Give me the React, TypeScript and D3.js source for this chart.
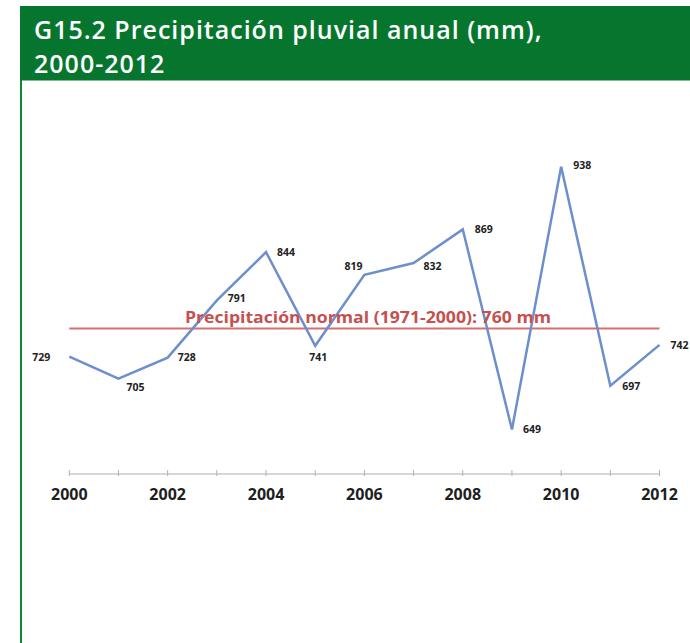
import React from "react";
import * as d3 from "d3";

const years = [2000, 2001, 2002, 2003, 2004, 2005, 2006, 2007, 2008, 2009, 2010, 2011, 2012];
const rainfall = [729, 705, 728, 791, 844, 741, 819, 832, 869, 649, 938, 697, 742];
const normalValue = 760;
const normalLabel = "Precipitación normal (1971-2000): 760 mm";
const tickYears = [2000, 2002, 2004, 2006, 2008, 2010, 2012];
const titleLines = ["G15.2 Precipitación pluvial anual (mm),", "2000-2012"];

// label placement offsets (style only)
const labelOffsets: [number, number, string][] = [
  [-19, 1, "end"],
  [8, 10, "start"],
  [10, 1, "start"],
  [11, -1, "start"],
  [11, 1, "start"],
  [3, 12, "middle"],
  [-2, -8, "end"],
  [10, 4, "start"],
  [12, 1, "start"],
  [11, 1, "start"],
  [12, 0, "start"],
  [12, 1, "start"],
  [11, 1, "start"],
];

export default function App() {
  const W = 690;
  const H = 643;
  const x = d3.scaleLinear().domain([2000, 2012]).range([69.3, 659.5]);
  const y = d3.scaleLinear().domain([600, 1000]).range([474, 110.3]);
  const line = d3
    .line<number>()
    .x((_, i) => x(years[i]))
    .y((d) => y(d));
  const axisY = y(600);

  return (
    <svg
      width={W}
      height={H}
      style={{ position: "absolute", left: 0, top: 0, background: "#fff" }}
    >
      <rect x={0} y={0} width={W} height={H} fill="#fff" />
      {/* header */}
      <rect x={20} y={6} width={W - 20} height={74.5} fill="#06762e" />
      <rect x={20} y={80} width={2} height={H - 80} fill="#0a8a33" />
      {titleLines.map((t, i) => (
        <text
          key={i}
          x={34}
          y={39 + i * 34}
          fill="#fff"
          fontFamily="'Open Sans', sans-serif"
          fontWeight={600}
          fontSize={25}
          letterSpacing={1}
        >
          {t}
        </text>
      ))}

      {/* axis */}
      <line x1={x(2000)} x2={x(2012)} y1={axisY} y2={axisY} stroke="#b0b0b0" strokeWidth={1.2} />
      {years.map((yr) => (
        <line key={yr} x1={x(yr)} x2={x(yr)} y1={axisY - 4} y2={axisY + 2} stroke="#b0b0b0" strokeWidth={1} />
      ))}
      {tickYears.map((yr) => (
        <text
          key={yr}
          x={x(yr)}
          y={500}
          textAnchor="middle"
          fill="#1e1e1e"
          fontFamily="'Open Sans', sans-serif"
          fontWeight={700}
          fontSize={16}
        >
          {yr}
        </text>
      ))}

      {/* normal line */}
      <line
        x1={x(2000)}
        x2={x(2012)}
        y1={y(normalValue)}
        y2={y(normalValue)}
        stroke="#d4706e"
        strokeWidth={2}
      />

      {/* series */}
      <path d={line(rainfall) || ""} fill="none" stroke="#6d8fcc" strokeWidth={2.5} strokeLinejoin="miter" />

      <text
        x={368}
        y={y(normalValue) - 6}
        textAnchor="middle"
        fill="#c5504f"
        fontFamily="'Open Sans', sans-serif"
        fontWeight={700}
        fontSize={16}
        textLength={366}
        lengthAdjust="spacingAndGlyphs"
      >
        {normalLabel}
      </text>

      {rainfall.map((v, i) => {
        const [dx, dy, anchor] = labelOffsets[i];
        return (
          <text
            key={i}
            x={x(years[i]) + dx}
            y={y(v) + dy}
            dominantBaseline="middle"
            textAnchor={anchor as any}
            fill="#222"
            fontFamily="'Open Sans', sans-serif"
            fontWeight={700}
            fontSize={10.5}
          >
            {v}
          </text>
        );
      })}
    </svg>
  );
}
